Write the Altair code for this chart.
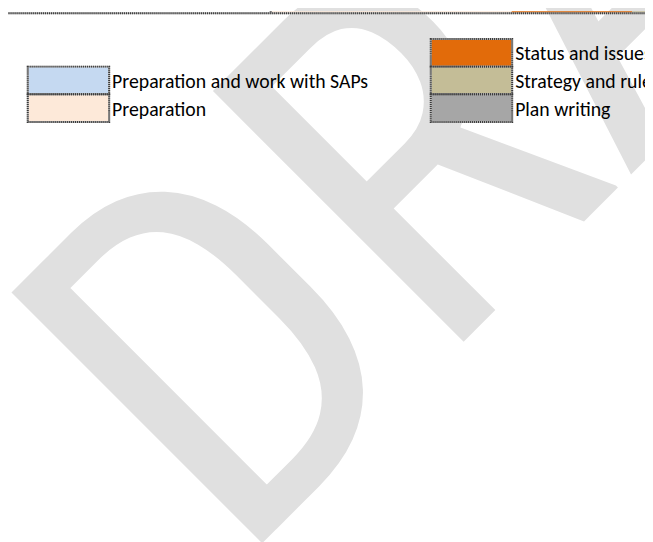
import altair as alt
import pandas as pd

# ---- Gantt row (timeline in months) ----
task_label = "(2 plans)"
phase_names = ["Preparation", "Status and issues", "Strategy and rules"]
phase_start = [0, 8, 12]
phase_end = [8, 12, 14]

# ---- Legend ----
legend_title = "Legende"
legend_labels = ["Preparation and work with SAPs", "Preparation",
                 "Status and issues", "Strategy and rules", "Plan writing"]
legend_colors = ["#C5D9F1", "#FDE9D9", "#E26B0A", "#C4BD97", "#A6A6A6"]
legend_col = [0, 0, 1, 1, 1]
legend_row = [1, 2, 0, 1, 2]

watermark_text = "DRAFT"

FONT = "Carlito"
BORDER_LIGHT = "#b4b4b4"
BORDER_DARK = "#3a3a3a"

color_scale = alt.Scale(domain=legend_labels, range=legend_colors)

# ---------------- watermark ----------------
wm = alt.Chart(pd.DataFrame({"t": [watermark_text]})).mark_text(
    font="Roboto Condensed", fontSize=505, angle=315, align="left", baseline="alphabetic",
    color="#E0E0E0",
).encode(text="t:N", x=alt.value(230), y=alt.value(566))

# ---------------- gantt row ----------------
phases = pd.DataFrame({"task": task_label, "phase": phase_names,
                       "start": phase_start, "end": phase_end})
frame = pd.DataFrame({"task": [task_label], "x0": [-9.0],
                      "x1": [float(max(phase_end))], "zero": [0.0]})

xs = alt.Scale(domain=[0, 12], range=[266, 632])
ys = alt.Scale(domain=[task_label], range=[-30, 2], paddingInner=0, paddingOuter=0)

bars = alt.Chart(phases).mark_rect(clip=True).encode(
    x=alt.X("start:Q", scale=xs, axis=None),
    x2="end:Q",
    y=alt.Y("task:N", scale=ys, axis=None),
    fill=alt.Fill("phase:N", scale=color_scale, legend=None),
)


def border_layers(dash):
    style = dict(clip=True, color=BORDER_DARK if dash else BORDER_LIGHT, strokeWidth=2,
                 strokeDash=[1, 1] if dash else [1, 0])
    bottom = alt.Chart(frame).mark_rule(**style).encode(
        x=alt.X("x0:Q", scale=xs, axis=None), x2="x1:Q",
        y=alt.Y("task:N", scale=ys, axis=None, bandPosition=1),
    )
    divider = alt.Chart(frame).mark_rule(**style).encode(
        x=alt.X("zero:Q", scale=xs, axis=None),
        y=alt.Y("task:N", scale=ys, axis=None, bandPosition=0),
        y2=alt.value(2),
    )
    return [divider, bottom]


row_label = alt.Chart(frame).mark_text(
    clip=True, font=FONT, fontSize=20, align="left", baseline="alphabetic", dy=-6, color="black"
).encode(
    x=alt.X("x0:Q", scale=xs, axis=None),
    y=alt.Y("task:N", scale=ys, axis=None, bandPosition=1),
    text="task:N",
)
gantt = alt.layer(bars, *border_layers(False), *border_layers(True), row_label)

# ---------------- legend ----------------
legend_df = pd.DataFrame({"label": legend_labels, "col": legend_col, "row": legend_row})
title_df = pd.DataFrame({"title": [legend_title], "col": [0], "row": [0]})

lx = alt.Scale(domain=[0, 1], range=[20, 510.5], paddingInner=0.798, paddingOuter=0)
ly = alt.Scale(domain=[0, 1, 2], range=[28, 112], paddingInner=0, paddingOuter=0)

swatches = alt.Chart(legend_df).mark_rect(stroke=BORDER_LIGHT, strokeWidth=2).encode(
    x=alt.X("col:O", scale=lx, axis=None),
    y=alt.Y("row:O", scale=ly, axis=None),
    fill=alt.Fill("label:N", scale=color_scale, legend=None),
)
swatch_dots = alt.Chart(legend_df).mark_rect(
    fill=None, stroke=BORDER_DARK, strokeWidth=2, strokeDash=[1, 1]
).encode(
    x=alt.X("col:O", scale=lx, axis=None),
    y=alt.Y("row:O", scale=ly, axis=None),
)
labels = alt.Chart(legend_df).mark_text(
    font=FONT, fontSize=20, align="left", baseline="alphabetic", dx=3, dy=7.5, color="black"
).encode(
    x=alt.X("col:O", scale=lx, axis=None, bandPosition=1),
    y=alt.Y("row:O", scale=ly, axis=None),
    text="label:N",
)
title = alt.Chart(title_df).mark_text(
    font=FONT, fontSize=20, fontWeight="bold", align="right", baseline="alphabetic",
    dx=-20, dy=7.5, color="black"
).encode(
    x=alt.X("col:O", scale=lx, axis=None, bandPosition=0),
    y=alt.Y("row:O", scale=ly, axis=None),
    text="title:N",
)
legend = alt.layer(swatches, swatch_dots, labels, title)

chart = alt.layer(wm, gantt, legend).resolve_scale(
    x="independent", y="independent", fill="independent"
).properties(
    width=645, height=534, padding=0, autosize=alt.AutoSizeParams(type="none"),
    background="white",
).configure_view(stroke=None)

chart.save("out.html", embed_options={"renderer": "svg", "actions": False})
